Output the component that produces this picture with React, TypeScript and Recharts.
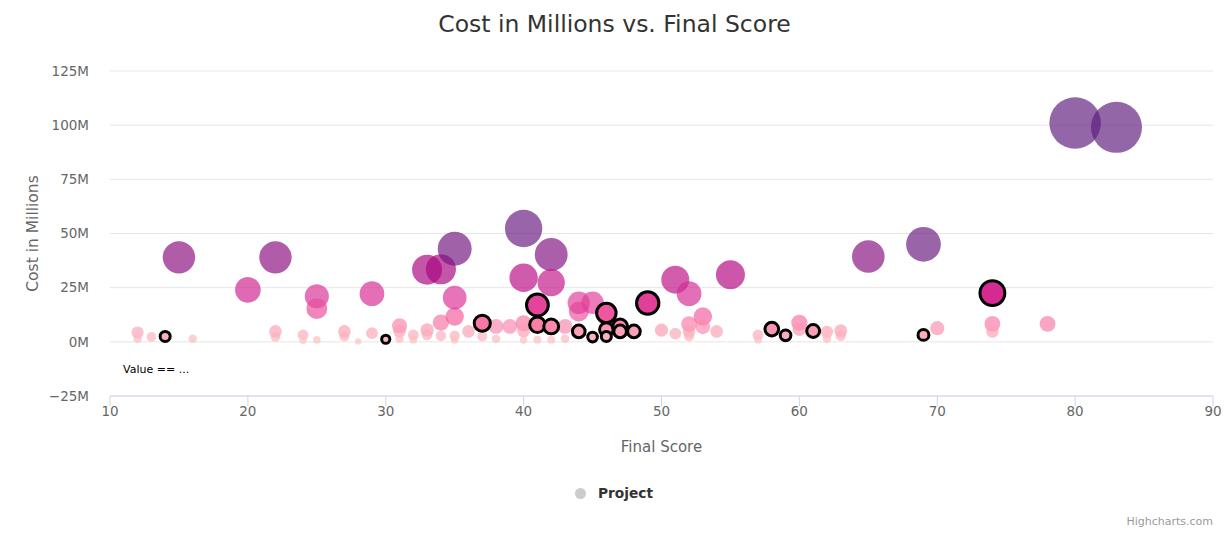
import { ScatterChart, Scatter, XAxis, YAxis, ZAxis, CartesianGrid } from 'recharts'

const FONT = '"DejaVu Sans", Verdana, sans-serif'

const scoreTicks = [10, 20, 30, 40, 50, 60, 70, 80, 90]
const costTicks = [-25, 0, 25, 50, 75, 100, 125]

// [final score, cost in millions]
const projects: [number, number][] = [
    [12, 4.3], [12, 1.4], [13, 2.3], [16, 1.4], [22, 4.8], [22, 2.3], [24, 3.2], [24, 0.7],
    [25, 0.9], [27, 4.8], [27, 2.5], [28, 0.2], [29, 4.0], [31, 7.4], [31, 5.0], [31, 1.5],
    [32, 3.2], [32, 1.0], [33, 5.5], [33, 3.2], [34, 2.8], [35, 2.8], [35, 0.8], [34, 8.9],
    [35, 11.7], [36, 4.8], [37, 2.5], [38, 7.1], [38, 1.4], [39, 7.1], [40, 8.6], [40, 5.0],
    [40, 0.8], [41, 1.0], [42, 1.0], [43, 7.1], [43, 1.5], [44, 14], [50, 5.4], [51, 3.8],
    [52, 8.2], [52, 4.8], [52, 2.5], [53, 11.7], [53, 6.9], [54, 4.8], [57, 3.2], [57, 1.0],
    [60, 8.8], [60, 5.8], [62, 4.6], [62, 1.5], [63, 5.1], [63, 2.8], [70, 6.3], [74, 8.3],
    [74, 4.8], [78, 8.3],
    [15, 39], [20, 24], [22, 39], [25, 21], [25, 15.3], [29, 22.2], [33, 33.3], [34, 33.5],
    [35, 43], [35, 20.4], [40, 52.3], [40, 29.6], [42, 40.3], [42, 27.3], [44, 18], [45, 18],
    [51, 28.7], [52, 22.2], [55, 31], [65, 39.4], [69, 45], [80, 101], [83, 99],
]

// projects drawn with a black outline
const flagged: [number, number][] = [
    [14, 2.5], [30, 1.2], [37, 8.6], [41, 17], [41, 7.9], [42, 7.1], [44, 4.8], [45, 2.2],
    [46, 13.3], [46, 5.7], [46, 2.5], [47, 7.1], [47, 4.8], [48, 4.8], [49, 17.9], [58, 5.9],
    [59, 3.0], [61, 5.0], [69, 3.2], [74, 22.5],
]

const COLOR_STOPS: [number, string][] = [
    [0, '#fcc5c0'],
    [5, '#fa9fb5'],
    [10, '#f768a1'],
    [20, '#dd3497'],
    [32, '#b0037f'],
    [45, '#6a1a80'],
    [100, '#5e1e7e'],
]

function rgb(hex: string) {
    const n = parseInt(hex.slice(1), 16)
    return [(n >> 16) & 255, (n >> 8) & 255, n & 255]
}

function costColor(cost: number) {
    if (cost <= COLOR_STOPS[0][0]) return COLOR_STOPS[0][1]
    for (let i = 1; i < COLOR_STOPS.length; i++) {
        const [v1, c1] = COLOR_STOPS[i]
        if (cost <= v1) {
            const [v0, c0] = COLOR_STOPS[i - 1]
            const t = (cost - v0) / (v1 - v0)
            const a = rgb(c0)
            const b = rgb(c1)
            const m = a.map((x, k) => Math.round(x + (b[k] - x) * t))
            return `rgb(${m[0]},${m[1]},${m[2]})`
        }
    }
    return COLOR_STOPS[COLOR_STOPS.length - 1][1]
}

function Bubble(props: any) {
    const { cx, cy, payload, highlight } = props
    if (cx == null || cy == null) return null
    const r = props.width ? props.width / 2 : Math.sqrt((props.size || 0) / Math.PI)
    const fill = costColor(payload.cost)
    if (highlight) {
        return <circle cx={cx} cy={cy} r={r} fill={fill} stroke="#000" strokeWidth={3} />
    }
    return <circle cx={cx} cy={cy} r={r} fill={fill} fillOpacity={0.68} />
}

const toRows = (list: [number, number][]) => list.map(([score, cost]) => ({ score, cost }))

export default function App() {
    const projectData = toRows(projects)
    const flaggedData = toRows(flagged)

    return (
        <div style={{ position: 'absolute', left: 0, top: 0, width: 1229, height: 535, background: '#fff', fontFamily: FONT }}>
            <div style={{ position: 'absolute', left: 0, top: 10, width: 1229, textAlign: 'center', fontSize: 23.5, color: '#333' }}>
                Cost in Millions vs. Final Score
            </div>

            <ScatterChart width={1229} height={535} margin={{ top: 71, right: 16, bottom: 79, left: 0 }}>
                <CartesianGrid vertical={false} stroke="#e6e6e6" />
                <XAxis
                    type="number"
                    dataKey="score"
                    domain={[10, 90]}
                    ticks={scoreTicks}
                    interval={0}
                    height={60}
                    axisLine={{ stroke: '#ccd6eb' }}
                    tickLine={{ stroke: '#ccd6eb' }}
                    tickSize={10}
                    tickMargin={0}
                    tick={{ fill: '#666', fontSize: 13.5, fontFamily: FONT }}
                    label={{ value: 'Final Score', position: 'insideBottom', offset: 4, fill: '#666', fontSize: 15, fontFamily: FONT }}
                />
                <YAxis
                    type="number"
                    dataKey="cost"
                    domain={[-25, 125]}
                    ticks={costTicks}
                    interval={0}
                    width={110}
                    axisLine={false}
                    tickLine={false}
                    tickSize={0}
                    tickMargin={21}
                    tickFormatter={(v: number) => (v < 0 ? `\u2212${-v}M` : `${v}M`)}
                    tick={{ fill: '#666', fontSize: 13.5, fontFamily: FONT }}
                    label={{
                        value: 'Cost in Millions', angle: -90, position: 'insideLeft', offset: 32,
                        style: { textAnchor: 'middle' }, fill: '#666', fontSize: 15.5, fontFamily: FONT,
                    }}
                />
                <ZAxis type="number" dataKey="cost" domain={[0, 101]} range={[28, 2089]} />
                <Scatter data={projectData} isAnimationActive={false} shape={(p: any) => <Bubble {...p} />} />
                <Scatter data={flaggedData} isAnimationActive={false} shape={(p: any) => <Bubble {...p} highlight />} />
            </ScatterChart>

            <div style={{ position: 'absolute', left: 123, top: 363, fontSize: 11, color: '#000' }}>Value == ...</div>

            {/* Legend */}
            <div style={{ position: 'absolute', left: 575, top: 485, display: 'flex', alignItems: 'center' }}>
                <span style={{ width: 11, height: 11, borderRadius: '50%', background: '#cccccc', display: 'inline-block' }} />
                <span style={{ marginLeft: 12, fontSize: 13.75, fontWeight: 'bold', color: '#333' }}>Project</span>
            </div>

            <div style={{ position: 'absolute', right: 16, top: 515, fontSize: 11, color: '#999' }}>Highcharts.com</div>
        </div>
    )
}
